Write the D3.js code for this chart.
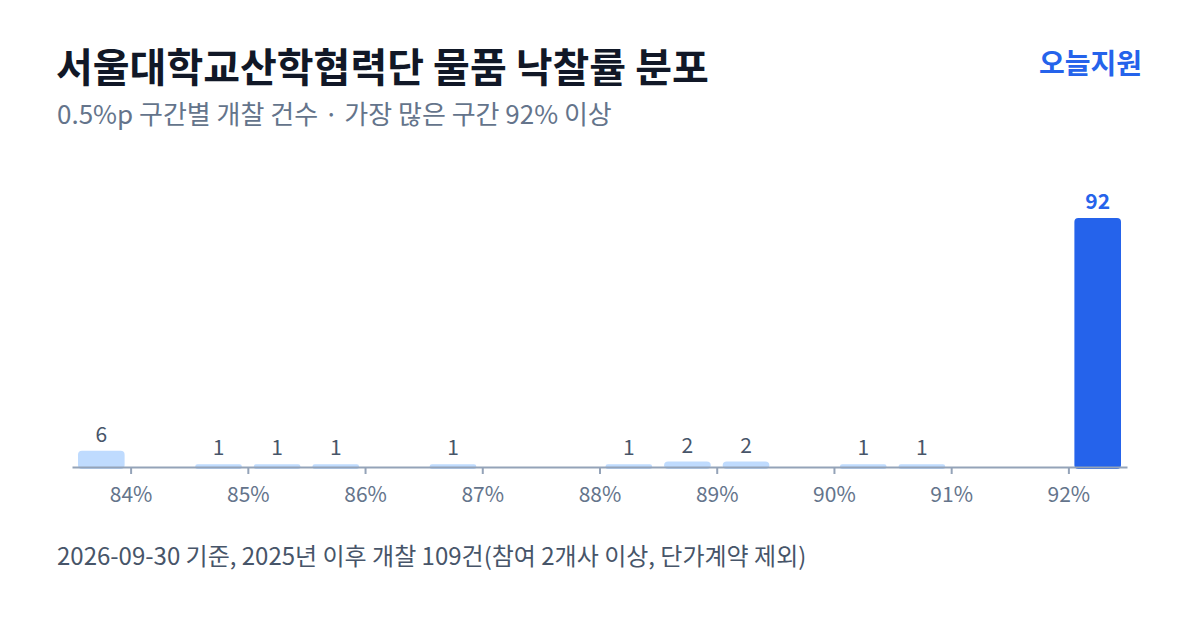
<!DOCTYPE html>
<html><head><meta charset="utf-8">
<script src="https://cdn.jsdelivr.net/npm/d3@7"></script>
<style>
html,body{margin:0;padding:0;background:#fff;}
svg{display:block;font-family:"Noto Sans CJK KR","Noto Sans",sans-serif;}
</style></head>
<body>
<svg id="c" width="1200" height="630"></svg>
<script>
const title = "서울대학교산학협력단 물품 낙찰률 분포";
const subtitle = "0.5%p 구간별 개찰 건수 · 가장 많은 구간 92% 이상";
const brand = "오늘지원";
const footnote = "2026-09-30 기준, 2025년 이후 개찰 109건(참여 2개사 이상, 단가계약 제외)";
const binStarts = [83.5, 84.5, 85.0, 85.5, 86.5, 88.0, 88.5, 89.0, 90.0, 90.5, 92.0];
const counts    = [6, 1, 1, 1, 1, 1, 2, 2, 1, 1, 92];
const tickValues = [84, 85, 86, 87, 88, 89, 90, 91, 92];
const binWidth = 0.5;
const highlightBin = 92.0;

const svg = d3.select("#c");
svg.append("rect").attr("width",1200).attr("height",630).attr("fill","#fff");

svg.append("text").attr("x",56).attr("y",82).attr("font-size",40).attr("font-weight",700)
  .attr("fill","#111827").text(title);
svg.append("text").attr("x",57).attr("y",124).attr("font-size",26)
  .attr("fill","#64748b").text(subtitle);
svg.append("text").attr("x",1142).attr("y",74).attr("text-anchor","end").attr("font-size",28)
  .attr("font-weight",700).attr("fill","#2563eb").text(brand);
svg.append("text").attr("x",57).attr("y",565).attr("font-size",24)
  .attr("fill","#475569").text(footnote);

const x = d3.scaleLinear().domain([83.5, 92.5]).range([72, 1127]);
const y = d3.scaleLinear().domain([0, 92]).range([467, 218]);

const data = binStarts.map((s,i)=>({s, c:counts[i]}));
const pad = 6;
const g = svg.append("g");
g.selectAll("rect.bar").data(data).join("rect")
  .attr("class","bar")
  .attr("x", d=>x(d.s)+pad)
  .attr("width", d=>x(d.s+binWidth)-x(d.s)-2*pad)
  .attr("y", d=>y(d.c))
  .attr("height", d=>y(0)-y(d.c)+2)
  .attr("rx", d=> Math.min(4,(y(0)-y(d.c))/1.2))
  .attr("fill", d=> d.s===highlightBin ? "#2563eb" : "#bfdbfe");

g.selectAll("text.lbl").data(data).join("text")
  .attr("class","lbl")
  .attr("x", d=>x(d.s+binWidth/2))
  .attr("y", d=>y(d.c)-9)
  .attr("text-anchor","middle")
  .attr("font-size",21)
  .attr("font-weight", d=> d.s===highlightBin ? 700 : 400)
  .attr("fill", d=> d.s===highlightBin ? "#2563eb" : "#475569")
  .text(d=>d.c);

const axis = d3.axisBottom(x).tickValues(tickValues).tickFormat(d=>d+"%").tickSize(7).tickPadding(13).tickSizeOuter(0);
const ag = svg.append("g").attr("transform","translate(0,467)").call(axis);
ag.select(".domain").attr("stroke","#94a3b8").attr("stroke-width",2);
ag.selectAll(".tick line").attr("stroke","#94a3b8").attr("stroke-width",2);
ag.selectAll(".tick text").attr("fill","#64748b").attr("font-size",21)
  .attr("font-family","\"Noto Sans CJK KR\",\"Noto Sans\",sans-serif");
</script>
</body></html>
